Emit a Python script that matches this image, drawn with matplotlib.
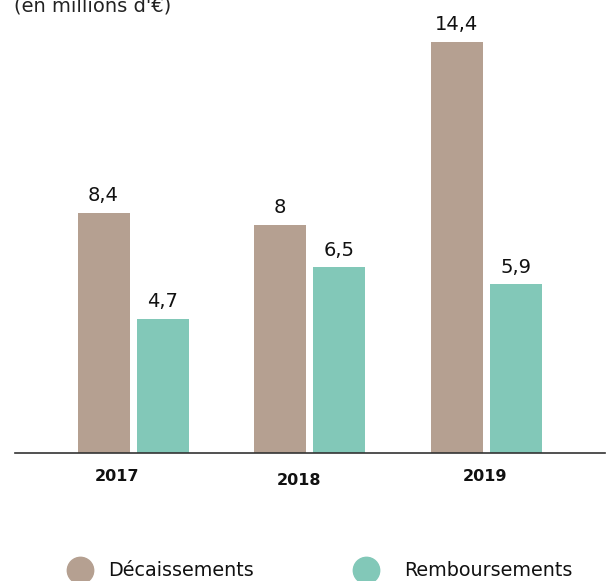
import matplotlib.pyplot as plt
from matplotlib.lines import Line2D

years = ["2017", "2018", "2019"]
decaissements = [8.4, 8.0, 14.4]
remboursements = [4.7, 6.5, 5.9]
series_names = ["Décaissements", "Remboursements"]
colors = ["#b5a091", "#82c8b8"]


def fmt(v):
    s = f"{v:.1f}".replace(".", ",")
    return s[:-2] if s.endswith(",0") else s


W, H = 612, 581
fig = plt.figure(figsize=(W / 100, H / 100), dpi=100)
# axes in pixel terms: left 15, right 605, baseline at y=453 from top
ax = fig.add_axes([15 / W, (H - 453) / H, 590 / W, 453 / H])

px_per_unit = 28.56
ax.set_ylim(0, 453 / px_per_unit)
ax.set_xlim((15 - 133) / 176.5, (605 - 133) / 176.5)

width = 52 / 176.5
offset = 29.5 / 176.5
font = ["DejaVu Sans"]

for i, (d, r) in enumerate(zip(decaissements, remboursements)):
    for x, v, c in [(i - offset, d, colors[0]), (i + offset, r, colors[1])]:
        ax.bar(x, v, width=width, color=c)
        ax.annotate(fmt(v), (x, v), xytext=(0, 8.5), textcoords="offset points",
                    ha="center", va="baseline", fontsize=14, color="#111111",
                    family=font)

# year labels (slightly shifted like the original)
year_dx = [-16 / 176.5, -10 / 176.5, -1 / 176.5]
year_dy = [-17, -20, -17]
for i, y in enumerate(years):
    ax.annotate(y, (i + year_dx[i], 0), xycoords=("data", "axes fraction"),
                xytext=(0, year_dy[i]), textcoords="offset points",
                ha="center", va="center", fontsize=11.5, fontweight="bold",
                color="#111111", family=font)

for s in ["top", "right", "left"]:
    ax.spines[s].set_visible(False)
ax.spines["bottom"].set_color("#333333")
ax.spines["bottom"].set_linewidth(1.2)
ax.set_xticks([])
ax.set_yticks([])

# unit title, partly cut at the top edge as in the original
fig.text(14 / W, 1 - 11 / H, "(en millions d'€)", ha="left", va="baseline",
         fontsize=14, color="#222222", family=font)

# legend
leg_y = 1 - 570 / H
for cx, tx, name, c in [(80, 108, series_names[0], colors[0]),
                        (366, 404, series_names[1], colors[1])]:
    fig.add_artist(Line2D([cx / W], [leg_y], marker="o", markersize=19,
                          color=c, linestyle="none", transform=fig.transFigure))
    fig.text(tx / W, leg_y, name, ha="left", va="center", fontsize=13.8,
             color="#111111", family=font)

fig.savefig("out.png", dpi=100)
